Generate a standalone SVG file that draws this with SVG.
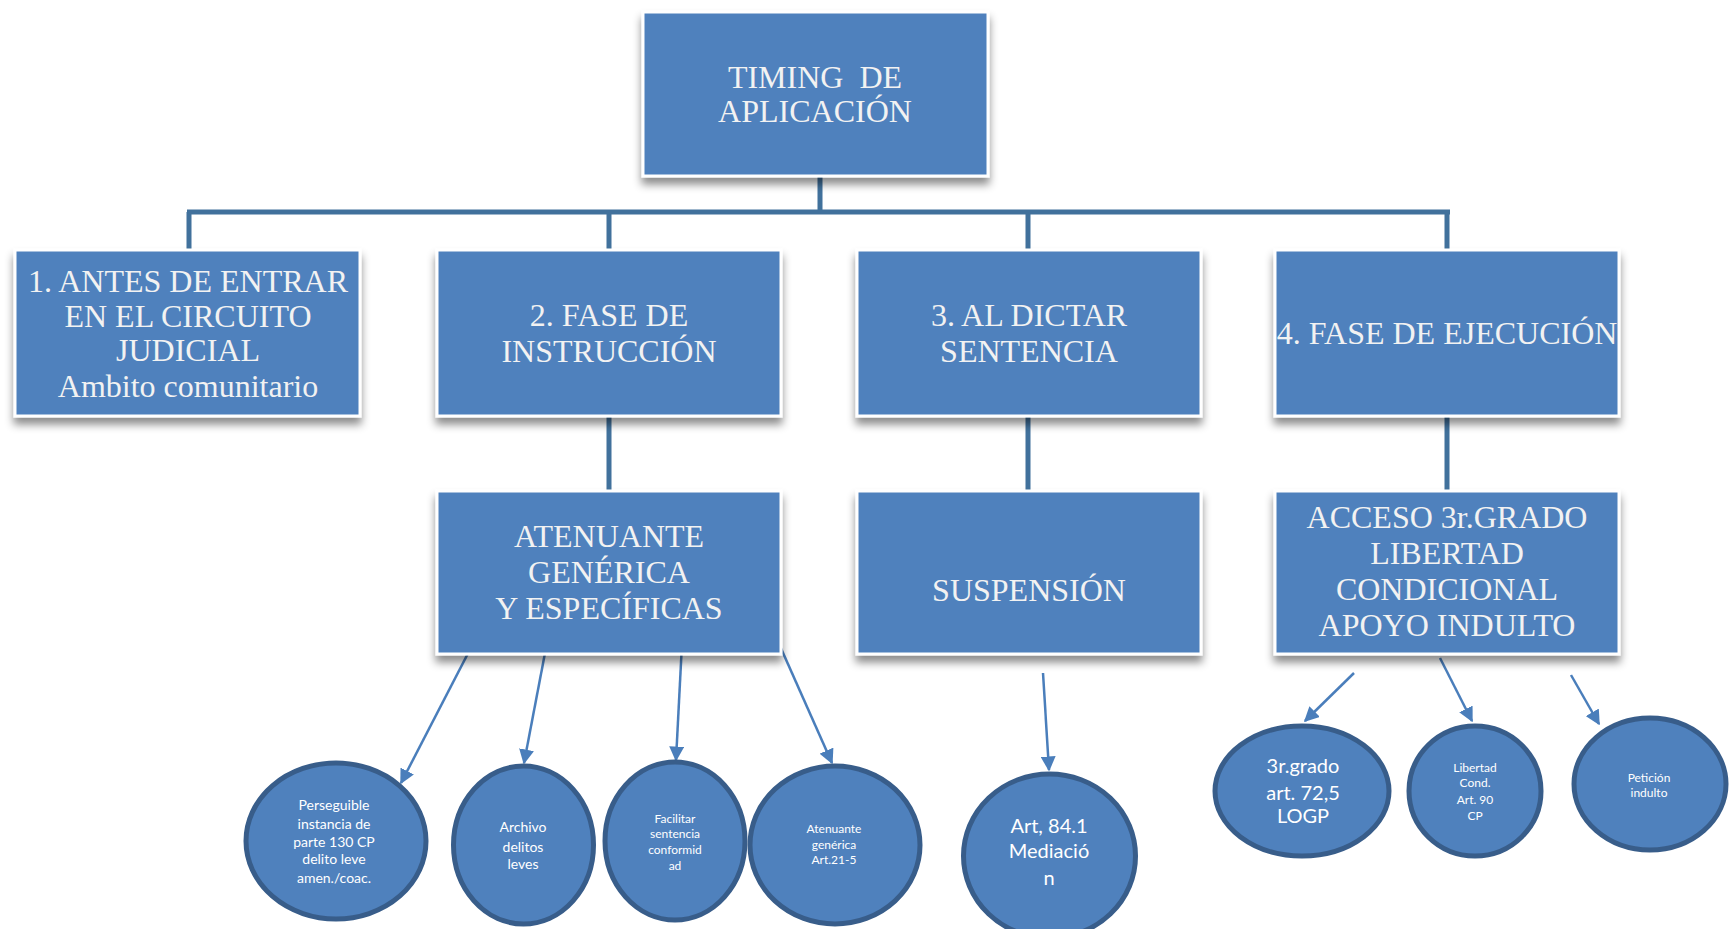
<svg xmlns="http://www.w3.org/2000/svg" width="1729" height="929" viewBox="0 0 1729 929">
<style>
.box{fill:#4F81BD;stroke:#FFFFFF;stroke-width:3;filter:url(#sh)}
.bt{font-family:"Liberation Serif","Times New Roman",serif;font-size:32px;fill:#F2F2F2;text-anchor:middle}
.ell{fill:#4F81BD;stroke:#385D8A;stroke-width:5}
.et{font-family:Lato,"Liberation Sans",sans-serif;fill:#FFFFFF;text-anchor:middle}
.tree{stroke:#41719C;stroke-width:5;fill:none}
.arr{stroke:#4A7EBB;stroke-width:2.5;fill:none;marker-end:url(#ah)}
</style>
<defs>
<filter id="sh" x="-10%" y="-10%" width="120%" height="130%">
<feDropShadow dx="0" dy="7" stdDeviation="4" flood-color="#000000" flood-opacity="0.45"/>
</filter>
<marker id="ah" viewBox="0 0 10 10" refX="9" refY="5" markerWidth="6" markerHeight="6" markerUnits="strokeWidth" orient="auto">
<path d="M0,0 L10,5 L0,10 z" fill="#4A7EBB"/>
</marker>
</defs>
<rect width="1729" height="929" fill="#FFFFFF"/>
<g id="connectors">
<path class="tree" d="M820,176 V212 M187,212 H1450 M189,212 V250 M609,212 V250 M1028,212 V250 M1447,212 V250"/>
<path class="tree" d="M609,417 V490 M1028,417 V490 M1447,417 V490"/>
<line class="arr" x1="510" y1="572" x2="401" y2="783"/>
<line class="arr" x1="558" y1="585" x2="524" y2="763"/>
<line class="arr" x1="689" y1="507" x2="676" y2="760"/>
<line class="arr" x1="719" y1="509" x2="832" y2="763"/>
<line class="arr" x1="1043" y1="673" x2="1049" y2="770"/>
<line class="arr" x1="1354" y1="673" x2="1305" y2="721"/>
<line class="arr" x1="1440" y1="658" x2="1472" y2="721"/>
<line class="arr" x1="1571" y1="675" x2="1599" y2="724"/>
</g>
<g id="n-top"><rect class="box" x="643" y="12" width="345" height="164"/>
<text class="bt" x="815" y="88" xml:space="preserve">TIMING  DE</text><text class="bt" x="815" y="122">APLICACIÓN</text></g>
<g id="n-1"><rect class="box" x="15" y="250" width="345" height="166"/>
<text class="bt" x="188" y="292">1. ANTES DE ENTRAR</text><text class="bt" x="188" y="327">EN EL CIRCUITO</text><text class="bt" x="188" y="361">JUDICIAL</text><text class="bt" x="188" y="397">Ambito comunitario</text></g>
<g id="n-2"><rect class="box" x="437" y="250" width="344" height="166"/>
<text class="bt" x="609" y="326">2. FASE DE</text><text class="bt" x="609" y="362">INSTRUCCIÓN</text></g>
<g id="n-3"><rect class="box" x="857" y="250" width="344" height="166"/>
<text class="bt" x="1029" y="326">3. AL DICTAR</text><text class="bt" x="1029" y="362">SENTENCIA</text></g>
<g id="n-4"><rect class="box" x="1275" y="250" width="344" height="166"/>
<text class="bt" x="1447" y="344">4. FASE DE EJECUCIÓN</text></g>
<g id="n-2a"><rect class="box" x="437" y="491" width="344" height="163"/>
<text class="bt" x="609" y="547">ATENUANTE</text><text class="bt" x="609" y="583">GENÉRICA</text><text class="bt" x="609" y="619">Y ESPECÍFICAS</text></g>
<g id="n-3a"><rect class="box" x="857" y="491" width="344" height="163"/>
<text class="bt" x="1029" y="601">SUSPENSIÓN</text></g>
<g id="n-4a"><rect class="box" x="1275" y="491" width="344" height="163"/>
<text class="bt" x="1447" y="528">ACCESO 3r.GRADO</text><text class="bt" x="1447" y="564">LIBERTAD</text><text class="bt" x="1447" y="600">CONDICIONAL</text><text class="bt" x="1447" y="636">APOYO INDULTO</text></g>
<g id="c-1"><ellipse class="ell" cx="336" cy="841" rx="90" ry="78"/>
<text class="et" font-size="14"><tspan x="334" y="810">Perseguible</tspan><tspan x="334" y="829">instancia de</tspan><tspan x="334" y="847">parte 130 CP</tspan><tspan x="334" y="864">delito leve</tspan><tspan x="334" y="883">amen./coac.</tspan></text></g>
<g id="c-2"><ellipse class="ell" cx="523.5" cy="845" rx="70" ry="79"/>
<text class="et" font-size="14"><tspan x="523" y="832">Archivo</tspan><tspan x="523" y="852">delitos</tspan><tspan x="523" y="869">leves</tspan></text></g>
<g id="c-3"><ellipse class="ell" cx="675" cy="841" rx="70" ry="79"/>
<text class="et" font-size="12"><tspan x="675" y="823">Facilitar</tspan><tspan x="675" y="838">sentencia</tspan><tspan x="675" y="854">conformid</tspan><tspan x="675" y="870">ad</tspan></text></g>
<g id="c-4"><ellipse class="ell" cx="835" cy="845" rx="85" ry="79"/>
<text class="et" font-size="12"><tspan x="834" y="833">Atenuante</tspan><tspan x="834" y="849">genérica</tspan><tspan x="834" y="864">Art.21-5</tspan></text></g>
<g id="c-5"><ellipse class="ell" cx="1049.5" cy="856" rx="86" ry="82"/>
<text class="et" font-size="20"><tspan x="1049" y="833">Art, 84.1</tspan><tspan x="1049" y="858">Mediació</tspan><tspan x="1049" y="885">n</tspan></text></g>
<g id="c-6"><ellipse class="ell" cx="1302" cy="791" rx="87" ry="65"/>
<text class="et" font-size="20"><tspan x="1303" y="773">3r.grado</tspan><tspan x="1303" y="800">art. 72,5</tspan><tspan x="1303" y="823">LOGP</tspan></text></g>
<g id="c-7"><ellipse class="ell" cx="1475" cy="791" rx="66" ry="65"/>
<text class="et" font-size="12"><tspan x="1475" y="772">Libertad</tspan><tspan x="1475" y="787">Cond.</tspan><tspan x="1475" y="804">Art. 90</tspan><tspan x="1475" y="820">CP</tspan></text></g>
<g id="c-8"><ellipse class="ell" cx="1650" cy="784" rx="76" ry="66"/>
<text class="et" font-size="12"><tspan x="1649" y="782">Petición</tspan><tspan x="1649" y="797">indulto</tspan></text></g>
</svg>
